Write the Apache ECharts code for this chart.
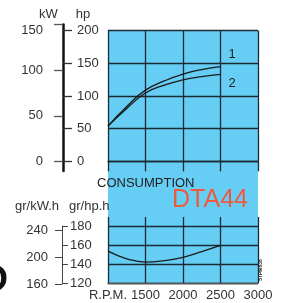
<!DOCTYPE html>
<html>
<head>
<meta charset="utf-8">
<script src="https://cdn.jsdelivr.net/npm/echarts@6/dist/echarts.min.js"></script>
<style>
  html, body { margin: 0; padding: 0; background: #fff; }
  #chart { width: 285px; height: 303px; }
</style>
</head>
<body>
<div id="chart"></div>
<script>
// engine curves
const rpm = [1000, 1250, 1500, 1750, 2000, 2250, 2500];
const power1 = [54, 84, 109, 123, 133.5, 140.5, 145];   // hp, curve 1
const power2 = [54, 81, 104.5, 116.5, 124.5, 129.5, 133]; // hp, curve 2
const consumption = [153.5, 145.5, 142, 143.5, 147, 153, 159.5]; // gr/hp.h

const hpTicks = [0, 50, 100, 150, 200];
const kwTicks = [0, 50, 100, 150];
const consHpTicks = [120, 140, 160, 180];
const consKwTicks = [160, 200, 240];

const BLUE = '#66CDF5';
const GRID = '#1e2a33';
const FONT = 'Liberation Sans, Arial, sans-serif';

const pairs = (ys) => rpm.map((x, i) => [x, ys[i]]);

const chart = echarts.init(document.getElementById('chart'));

const hidden = { show: false };

const option = {
  animation: false,
  textStyle: { fontFamily: FONT },
  grid: [
    // blue panel behind both charts
    { left: 108, top: 30.6, width: 150, height: 252.4, show: true, backgroundColor: BLUE, borderWidth: 0 },
    // power
    { left: 108, top: 30.6, width: 150, height: 130.8 },
    // kW scale for power
    { left: 63, top: 24.5, width: 45, height: 146.5 },
    // consumption
    { left: 108, top: 226, width: 150, height: 57 },
    // gr/kW.h scale
    { left: 62, top: 230, width: 46, height: 54 }
  ],
  xAxis: [
    { gridIndex: 0, type: 'value', min: 0, max: 1, axisLine: hidden, axisTick: hidden, axisLabel: hidden, splitLine: hidden },
    {
      gridIndex: 1, type: 'value', min: 1000, max: 3000, interval: 500,
      axisLine: { show: true, onZero: false, lineStyle: { color: GRID, width: 1.3 } },
      axisTick: { show: true, length: 10, lineStyle: { color: GRID, width: 1.3 } },
      axisLabel: hidden,
      splitLine: { show: true, lineStyle: { color: GRID, width: 1.3 } }
    },
    { gridIndex: 2, type: 'value', min: 0, max: 1, axisLine: hidden, axisTick: hidden, axisLabel: hidden, splitLine: hidden },
    {
      gridIndex: 3, type: 'value', min: 1000, max: 3000, interval: 500,
      axisLine: { show: true, onZero: false, lineStyle: { color: '#555', width: 1.3 } },
      axisTick: hidden,
      axisLabel: {
        margin: 6, color: '#333', fontSize: 13, fontFamily: FONT,
        formatter: (v) => (v === 1000 ? 'R.P.M.' : String(v))
      },
      splitLine: { show: true, lineStyle: { color: GRID, width: 1.3 } }
    },
    {
      gridIndex: 3, type: 'value', position: 'top', min: 1000, max: 3000, interval: 500,
      axisLine: hidden,
      axisTick: { show: true, length: 9, lineStyle: { color: GRID, width: 1.3 } },
      axisLabel: hidden, splitLine: hidden
    },
    { gridIndex: 4, type: 'value', min: 0, max: 1, axisLine: hidden, axisTick: hidden, axisLabel: hidden, splitLine: hidden }
  ],
  yAxis: [
    { gridIndex: 0, type: 'value', min: 0, max: 1, axisLine: hidden, axisTick: hidden, axisLabel: hidden, splitLine: hidden },
    {
      // hp
      gridIndex: 1, type: 'value', min: 0, max: 200, interval: 50, offset: 45,
      axisLine: hidden,
      axisTick: { show: true, inside: true, length: 9, customValues: hpTicks, lineStyle: { color: '#333', width: 1.3 } },
      axisLabel: { inside: true, margin: 14, color: '#333', fontSize: 13, customValues: hpTicks },
      splitLine: { show: true, lineStyle: { color: GRID, width: 1.3 } }
    },
    {
      // kW
      gridIndex: 2, type: 'value', min: -10.5, max: 150,
      axisLine: { show: true, onZero: false, lineStyle: { color: '#111', width: 2.5 } },
      axisTick: { show: true, length: 9, customValues: kwTicks, lineStyle: { color: '#555', width: 1.3 } },
      axisLabel: {
        margin: 20, color: '#333', fontSize: 13, customValues: kwTicks,
        formatter: (v) => (v === 150 ? '{a|150}' : String(v)),
        rich: { a: { fontSize: 13, color: '#333', padding: [11, 0, 0, 0] } }
      },
      splitLine: hidden
    },
    {
      // gr/hp.h
      gridIndex: 3, type: 'value', min: 120, max: 180, interval: 20, offset: 46,
      axisLine: { show: true, onZero: false, lineStyle: { color: '#444', width: 1 } },
      axisTick: { show: true, inside: true, length: 6, lineStyle: { color: '#444', width: 1 } },
      axisLabel: { inside: true, margin: 8, color: '#333', fontSize: 13, customValues: consHpTicks },
      splitLine: { show: true, lineStyle: { color: GRID, width: 1.3 } }
    },
    {
      // gr/kW.h
      gridIndex: 4, type: 'value', min: 160, max: 240,
      axisLine: { show: true, onZero: false, lineStyle: { color: '#444', width: 1 } },
      axisTick: { show: true, length: 7, customValues: consKwTicks, lineStyle: { color: '#444', width: 1 } },
      axisLabel: { margin: 14, color: '#333', fontSize: 13, customValues: consKwTicks },
      splitLine: hidden
    }
  ],
  series: [
    {
      type: 'line', xAxisIndex: 1, yAxisIndex: 1, data: pairs(power1),
      smooth: true, showSymbol: false, lineStyle: { color: '#1a1a1a', width: 1.3 },
      endLabel: { show: true, formatter: '1', offset: [0, -12], color: '#222', fontSize: 13 }
    },
    {
      type: 'line', xAxisIndex: 1, yAxisIndex: 1, data: pairs(power2),
      smooth: true, showSymbol: false, lineStyle: { color: '#1a1a1a', width: 1.3 },
      endLabel: { show: true, formatter: '2', offset: [0, 9], color: '#222', fontSize: 13 }
    },
    {
      type: 'line', xAxisIndex: 3, yAxisIndex: 3, data: pairs(consumption),
      smooth: true, showSymbol: false, lineStyle: { color: '#1a1a1a', width: 1.3 }
    }
  ],
  graphic: [
    { type: 'text', x: 130, y: 3, style: { text: 'POWER', font: '13px ' + FONT, fill: '#333', textAlign: 'center', textVerticalAlign: 'bottom' } },
    { type: 'text', x: 48.5, y: 14, style: { text: 'kW', font: '13px ' + FONT, fill: '#333', textAlign: 'center', textVerticalAlign: 'middle' } },
    { type: 'text', x: 83, y: 14, style: { text: 'hp', font: '13px ' + FONT, fill: '#333', textAlign: 'center', textVerticalAlign: 'middle' } },
    { type: 'text', x: 97, y: 183, style: { text: 'CONSUMPTION', font: '13px ' + FONT, fill: '#222', textAlign: 'left', textVerticalAlign: 'middle' } },
    { type: 'text', x: 210, y: 200, style: { text: 'DTA44', font: '25px ' + FONT, fill: '#EE5A3C', textAlign: 'center', textVerticalAlign: 'middle' } },
    { type: 'text', x: 15, y: 206, style: { text: 'gr/kW.h', font: '13px ' + FONT, fill: '#333', textAlign: 'left', textVerticalAlign: 'middle' } },
    { type: 'text', x: 69, y: 206, style: { text: 'gr/hp.h', font: '13px ' + FONT, fill: '#333', textAlign: 'left', textVerticalAlign: 'middle' } },
    { type: 'text', x: 261, y: 270, rotation: Math.PI / 2, style: { text: '5TPM838', font: 'bold 5px ' + FONT, fill: '#222', textAlign: 'center', textVerticalAlign: 'middle' } },
    { type: 'text', x: 8, y: 281, style: { text: 'O', font: 'bold 36px ' + FONT, fill: '#111', textAlign: 'right', textVerticalAlign: 'middle' } }
  ]
};

chart.setOption(option);
</script>
</body>
</html>
